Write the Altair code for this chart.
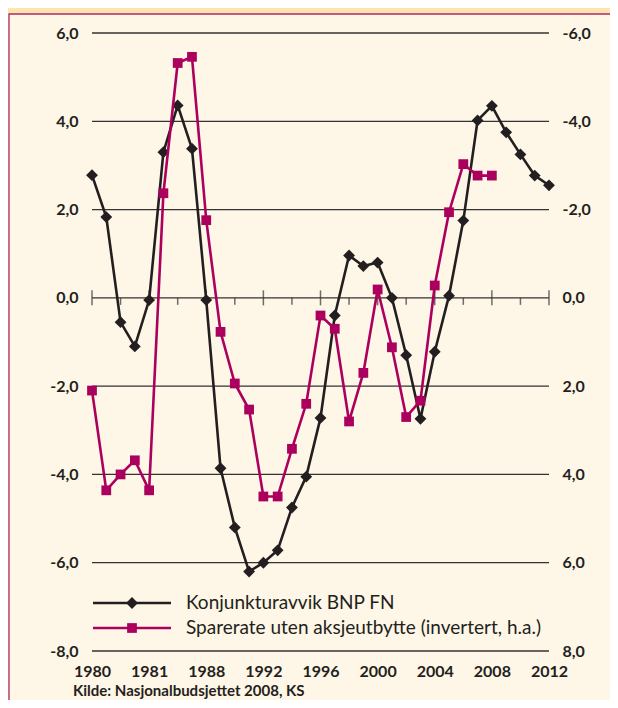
import altair as alt
import pandas as pd

# ---- data ----
years_bnp = list(range(1980, 2013))
bnp_gap = [2.78, 1.83, -0.55, -1.1, -0.05, 3.3, 4.36, 3.38, -0.05, -3.86,
           -5.2, -6.2, -6.0, -5.72, -4.75, -4.05, -2.72, -0.4, 0.96, 0.72,
           0.8, 0.0, -1.3, -2.74, -1.22, 0.05, 1.75, 4.02, 4.35, 3.75,
           3.25, 2.77, 2.55]
years_spare = list(range(1980, 2009))
spare_rate = [2.1, 4.36, 4.0, 3.68, 4.36, -2.37, -5.32, -5.46, -1.76, 0.77,
              1.94, 2.53, 4.5, 4.5, 3.42, 2.4, 0.4, 0.7, 2.8, 1.7,
              -0.19, 1.12, 2.7, 2.33, -0.28, -1.94, -3.03, -2.77, -2.77]

series_names = ["Konjunkturavvik BNP FN",
                "Sparerate uten aksjeutbytte (invertert, h.a.)"]
x_tick_values = [1980, 1984, 1988, 1992, 1996, 2000, 2004, 2008, 2012]
x_tick_labels = ["1980", "1981", "1988", "1992", "1996", "2000", "2004", "2008", "2012"]
minor_ticks = [1982, 1986, 1990, 1994, 1998, 2002, 2006, 2010]
grid_left = [6, 4, 2, 0, -2, -4, -6, -8]
right_ticks = [-6, -4, -2, 0, 2, 4, 6, 8]
source_text = "Kilde: Nasjonalbudsjettet 2008, KS"

# ---- style ----
FONT = "Lato"
BLACK = "#231f20"
MAGENTA = "#ac005e"
OUTER = "#fde5b0"
PANEL = "#fef6e6"
W, H = 457, 618

df_b = pd.DataFrame({"year": years_bnp, "value": bnp_gap})
df_s = pd.DataFrame({"year": years_spare, "value": spare_rate})
df_grid = pd.DataFrame({"value": grid_left})
df_major = pd.DataFrame({"year": x_tick_values, "value": 0})
df_minor = pd.DataFrame({"year": minor_ticks, "value": 0})
one = pd.DataFrame({"k": [0]})

xlab_expr = "[" + ",".join("'%s'" % s for s in x_tick_labels) + "][indexof([" + \
    ",".join(str(v) for v in x_tick_values) + "], datum.value)]"
ylab_expr = "replace(replace(format(datum.value, '.1f'), '.', ','), '\u2212', '-')"

xscale = alt.Scale(domain=[1980, 2012], nice=False, zero=False)
lscale = alt.Scale(domain=[-8, 6], nice=False, zero=False)
rscale = alt.Scale(domain=[-6, 8], nice=False, zero=False, reverse=True)

common_axis = dict(title=None, grid=False, domain=False, ticks=False,
                   labelFlush=False, labelOverlap=False, labelFont=FONT,
                   labelFontSize=16, labelFontWeight="bold", labelColor=BLACK,
                   zindex=2)

x_axis = alt.Axis(values=x_tick_values, labelExpr=xlab_expr, labelPadding=12,
                  **common_axis)
l_axis = alt.Axis(values=grid_left, labelExpr=ylab_expr, labelPadding=14,
                  orient="left", **common_axis)
r_axis = alt.Axis(values=right_ticks, labelExpr=ylab_expr, labelPadding=13,
                  orient="right", **common_axis)

X = alt.X("year:Q", scale=xscale, axis=x_axis)
YL = alt.Y("value:Q", scale=lscale, axis=l_axis)
YR = alt.Y("value:Q", scale=rscale, axis=r_axis)

panel = alt.Chart(one).mark_rect(fill=PANEL, stroke="#b02a66", strokeWidth=1.3).encode(
    x=alt.value(-83), x2=alt.value(W + 100), y=alt.value(-19), y2=alt.value(H + 100))

grid = alt.Chart(df_grid).mark_rule(color="#333333", strokeWidth=1.3).encode(
    y=YL, x=alt.value(0), x2=alt.value(W))

major = alt.Chart(df_major).mark_tick(color="#333333", thickness=1.5, size=15,
                                       orient="vertical").encode(x=X, y=YL)
minor = alt.Chart(df_minor).mark_tick(color="#333333", thickness=1.5, size=7,
                                       orient="vertical", yOffset=3.5).encode(x=X, y=YL)

b_line = alt.Chart(df_b).mark_line(color=BLACK, strokeWidth=2.6).encode(x=X, y=YL)
b_pts = alt.Chart(df_b).mark_point(shape="diamond", filled=True, size=140,
                                   color=BLACK, opacity=1).encode(x=X, y=YL)

left = alt.layer(grid, major, minor, b_line, b_pts)

s_line = alt.Chart(df_s).mark_line(color=MAGENTA, strokeWidth=2.6).encode(x=X, y=YR)
s_pts = alt.Chart(df_s).mark_point(shape="square", filled=True, size=95,
                                   color=MAGENTA, opacity=1).encode(x=X, y=YR)

right = alt.layer(s_line, s_pts)

# ---- legend ----
def legend_row(label, color, shape, size, ypix):
    d = pd.DataFrame({"label": [label]})
    r = alt.Chart(d).mark_rule(color=color, strokeWidth=2.6).encode(
        x=alt.value(1), x2=alt.value(79), y=alt.value(ypix))
    p = alt.Chart(d).mark_point(shape=shape, filled=True, size=size, color=color,
                                opacity=1).encode(x=alt.value(40), y=alt.value(ypix))
    t = alt.Chart(d).mark_text(align="left", baseline="middle", font=FONT, fontSize=19,
                               color=BLACK).encode(
        x=alt.value(94), y=alt.value(ypix), text="label:N")
    return [r, p, t]

leg = legend_row(series_names[0], BLACK, "diamond", 140, 570) + \
      legend_row(series_names[1], MAGENTA, "square", 95, 595)

src = alt.Chart(pd.DataFrame({"t": [source_text]})).mark_text(
    align="left", baseline="middle", font=FONT, fontSize=15, fontWeight="bold",
    color=BLACK).encode(x=alt.value(-19), y=alt.value(658), text="t:N")

chart = alt.layer(panel, left, right, *leg, src).resolve_scale(y="independent").properties(
    width=W, height=H,
    background=OUTER,
    padding={"left": 84, "top": 25, "right": 61, "bottom": 49},
    autosize=alt.AutoSizeParams(type="none"),
).configure_view(stroke=None)

chart.save("out.html", embed_options={"renderer": "svg", "actions": False})
